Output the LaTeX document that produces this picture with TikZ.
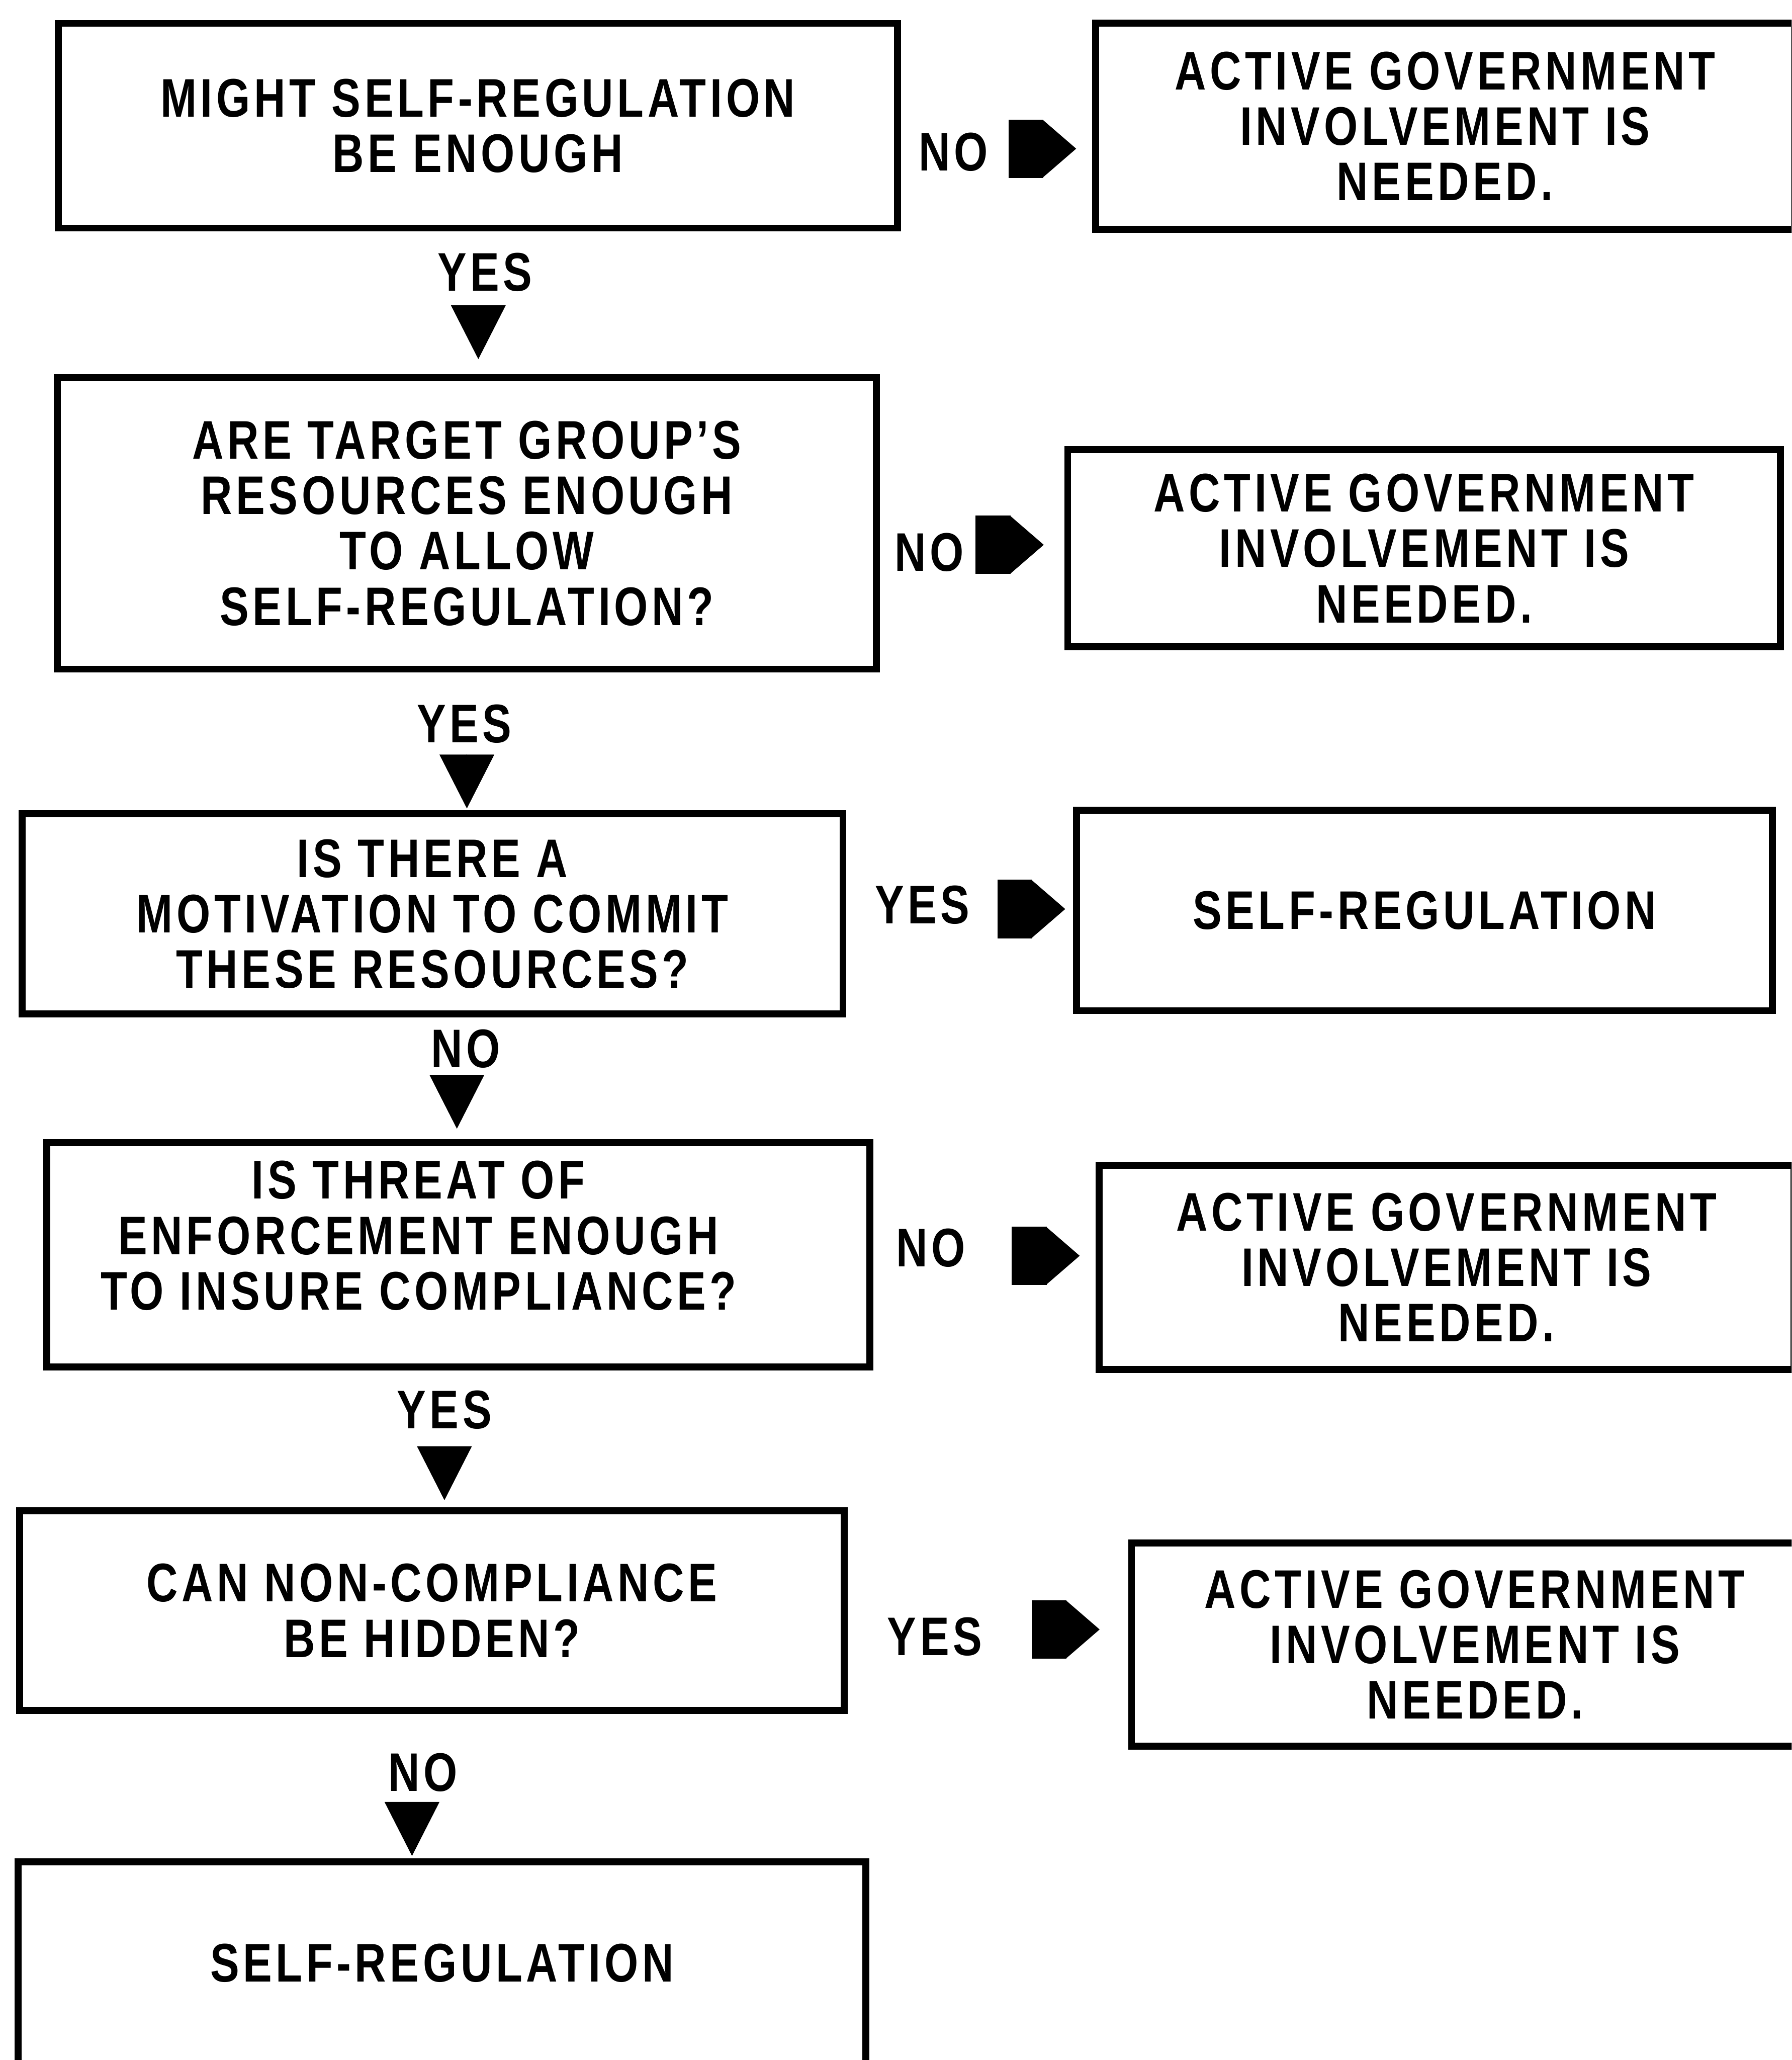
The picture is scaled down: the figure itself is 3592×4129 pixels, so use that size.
\documentclass[tikz,border=0pt]{standalone}
\usepackage{fontspec}
\usetikzlibrary{arrows.meta}
\newfontfamily\flowfont[FakeStretch=0.80,LetterSpace=7]{Liberation Sans}

\begin{document}
\begin{tikzpicture}[style=thick,x=0.01cm,y=-0.01cm]
\newcommand{\fsize}{\fontsize{31}{31.6}\selectfont}
\tikzstyle{darrow}=[line width=0.2pt,-{Triangle[length=1.08cm,width=1.10cm,line width=0pt]}]
\tikzstyle{rarrow}=[line width=1.17cm,-{Triangle[length=0.67cm,width=1.15cm,line width=1pt]}]
\useasboundingbox (0,0) rectangle (3592,4129);
\clip (0,0) rectangle (3592,4129);
\begin{scope}[shape=rectangle,align=center]
\tikzstyle{every node}=[draw,line width=0.14cm,font=\flowfont\bfseries\fsize]
% questions, left column
\node[minimum width=16.82cm,minimum height=4.10cm] (Q_1) at (958,252) {MIGHT SELF-REGULATION\\BE ENOUGH};
\node[minimum width=16.42cm,minimum height=5.84cm] (Q_2) at (936,1049) {ARE TARGET GROUP’S\\RESOURCES ENOUGH\\TO ALLOW\\SELF-REGULATION?};
\node[minimum width=16.45cm,minimum height=4.01cm] (Q_3) at (867,1832) {IS THERE A\\MOTIVATION TO COMMIT\\THESE RESOURCES?};
\node[minimum width=16.49cm,minimum height=4.49cm] (Q_4) at (919,2515) {\begin{tabular}{@{}c@{}}IS THREAT OF\\ENFORCEMENT ENOUGH\\TO INSURE COMPLIANCE?\\[0.46cm]\end{tabular}\hspace*{1.6cm}};
\node[minimum width=16.52cm,minimum height=4.00cm] (Q_5) at (866,3228) {CAN NON-COMPLIANCE\\BE HIDDEN?};
\node[minimum width=16.98cm,minimum height=4.06cm] (S_6) at (886,3935) {SELF-REGULATION};
% outcomes, right column
\node[minimum width=14.00cm,minimum height=4.13cm] (A_1) at (2897,253) {ACTIVE GOVERNMENT\\INVOLVEMENT IS\\NEEDED.};
\node[minimum width=14.28cm,minimum height=3.95cm] (A_2) at (2855,1099) {ACTIVE GOVERNMENT\\INVOLVEMENT IS\\NEEDED.};
\node[minimum width=13.94cm,minimum height=4.01cm] (A_3) at (2856,1825) {SELF-REGULATION};
\node[minimum width=13.92cm,minimum height=4.09cm] (A_4) at (2900,2540) {ACTIVE GOVERNMENT\\INVOLVEMENT IS\\NEEDED.};
\node[minimum width=13.76cm,minimum height=4.07cm] (A_5) at (2957,3296) {ACTIVE GOVERNMENT\\INVOLVEMENT IS\\NEEDED.};
\end{scope}
\begin{scope}
\tikzstyle{every node}=[anchor=base,inner sep=0pt,font=\flowfont\bfseries\fsize]
\node (yes_1) at (972,583) {YES};
\node (yes_2) at (931,1488) {YES};
\node (no_3) at (934,2140) {NO};
\node (yes_4) at (891,2863) {YES};
\node (no_5) at (848,3590) {NO};
\node (no_r1) at (1911,342) {NO};
\node (no_r2) at (1863,1145) {NO};
\node (yes_r3) at (1849,1851) {YES};
\node (no_r4) at (1866,2539) {NO};
\node (yes_r5) at (1874,3318) {YES};
\end{scope}
% down the left column
\draw [darrow,shorten <=0.28cm,shorten >=0.30cm] ([shift={(-13,0)}]yes_1.south) -- ([shift={(-13,0)}]yes_1.south |- Q_2.north);
\draw [darrow,shorten <=0.23cm,shorten >=0.04cm] ([shift={(5,0)}]yes_2.south) -- ([shift={(5,0)}]yes_2.south |- Q_3.north);
\draw [darrow,shorten <=0.14cm,shorten >=0.21cm] ([shift={(-18,0)}]no_3.south) -- ([shift={(-18,0)}]no_3.south |- Q_4.north);
\draw [darrow,shorten <=0.35cm,shorten >=0.14cm] (yes_4.south) -- (yes_4.south |- Q_5.north);
\draw [darrow,shorten <=0.21cm,shorten >=0.05cm] ([shift={(-22,0)}]no_5.south) -- ([shift={(-22,0)}]no_5.south |- S_6.north);
% across to the right column
\draw [rarrow,shorten <=0.40cm,shorten >=0.32cm] ([shift={(0,-44)}]no_r1.base east) -- ([shift={(0,-44)}]no_r1.base east -| A_1.west);
\draw [rarrow,shorten <=0.22cm,shorten >=0.41cm] ([shift={(0,-53)}]no_r2.base east) -- ([shift={(0,-53)}]no_r2.base east -| A_2.west);
\draw [rarrow,shorten <=0.55cm,shorten >=0.16cm] ([shift={(0,-29)}]yes_r3.base east) -- ([shift={(0,-29)}]yes_r3.base east -| A_3.west);
\draw [rarrow,shorten <=0.92cm,shorten >=0.32cm] ([shift={(0,-22)}]no_r4.base east) -- ([shift={(0,-22)}]no_r4.base east -| A_4.west);
\draw [rarrow,shorten <=0.98cm,shorten >=0.57cm] ([shift={(0,-52)}]yes_r5.base east) -- ([shift={(0,-52)}]yes_r5.base east -| A_5.west);
\end{tikzpicture}
\end{document}
